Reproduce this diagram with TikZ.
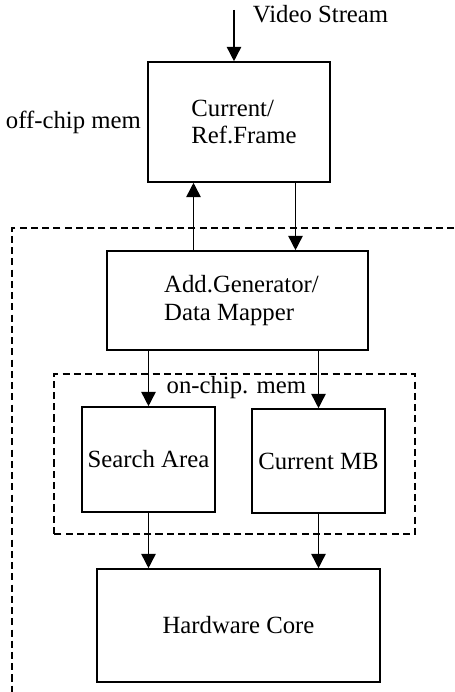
\documentclass[tikz,border=0pt]{standalone}
\usepackage{fontspec}
\setmainfont{Liberation Serif}
\usetikzlibrary{arrows.meta,positioning}

\tikzset{
  blockbox/.style={draw, line width=1.1pt, align=left, inner sep=0pt},
  arr/.style={line width=1.1pt, -{Triangle[length=3.6mm,width=3.6mm]}},
  memline/.style={line width=0.9pt, dash pattern=on 5pt off 3pt}
}

\begin{document}
\begin{tikzpicture}[font=\fontsize{17.6}{19.4}\selectfont]
		\useasboundingbox (0,0) rectangle (11.35,17.3);
		% Draw blocks.
		\node[blockbox, minimum width=4.55cm, minimum height=3cm] (frame) at (5.975,14.25) {\hspace*{0.25cm}Current/\\\hspace*{0.25cm}Ref.Frame};
		\node[blockbox, minimum width=6.525cm, minimum height=2.475cm] (addgen) at (5.9375,9.7875) {\hspace*{0.2cm}Add.Generator/\\\hspace*{0.2cm}Data Mapper};
		\node[blockbox, minimum width=3.325cm, minimum height=2.625cm] (search) at (3.7125,5.8125) {Search Area};
		\node[blockbox, minimum width=3.325cm, minimum height=2.6cm] (curmb) at (7.9625,5.775) {Current MB};
		\node[blockbox, minimum width=7.075cm, minimum height=2.825cm] (core) at (5.9625,1.6625) {Hardware Core};
		
		% Memory regions.
		\coordinate (outtl) at (0.3,11.6);
		\draw[memline] (11.35,11.6) -- (outtl) -- (0.3,0);
		\draw[memline] (1.35,3.95) rectangle (10.375,7.95);
		\node (onchip) at (5.91,7.6) {on-chip. mem};
		\node[left=1pt of frame.west] (offchip) {off-chip mem};
		
		% Input.
		\coordinate (vs) at (5.85,17.05);
		\draw[arr] (vs) -- (vs |- frame.north);
		\node[anchor=west] (vslabel) at (6.2,16.95) {Video Stream};
		
		% Data paths.
		\draw[arr] ([xshift=-1.1cm]addgen.north) -- ([xshift=-1.1cm]addgen.north |- frame.south);
		\draw[arr] ([xshift=1.45cm]addgen.north |- frame.south) -- ([xshift=1.45cm]addgen.north);
		\draw[arr] (search.north |- addgen.south) -- (search.north);
		\draw[arr] (curmb.north |- addgen.south) -- (curmb.north);
		\draw[arr] (search.south) -- (search.south |- core.north);
		\draw[arr] (curmb.south) -- (curmb.south |- core.north);
	\end{tikzpicture}
\end{document}
